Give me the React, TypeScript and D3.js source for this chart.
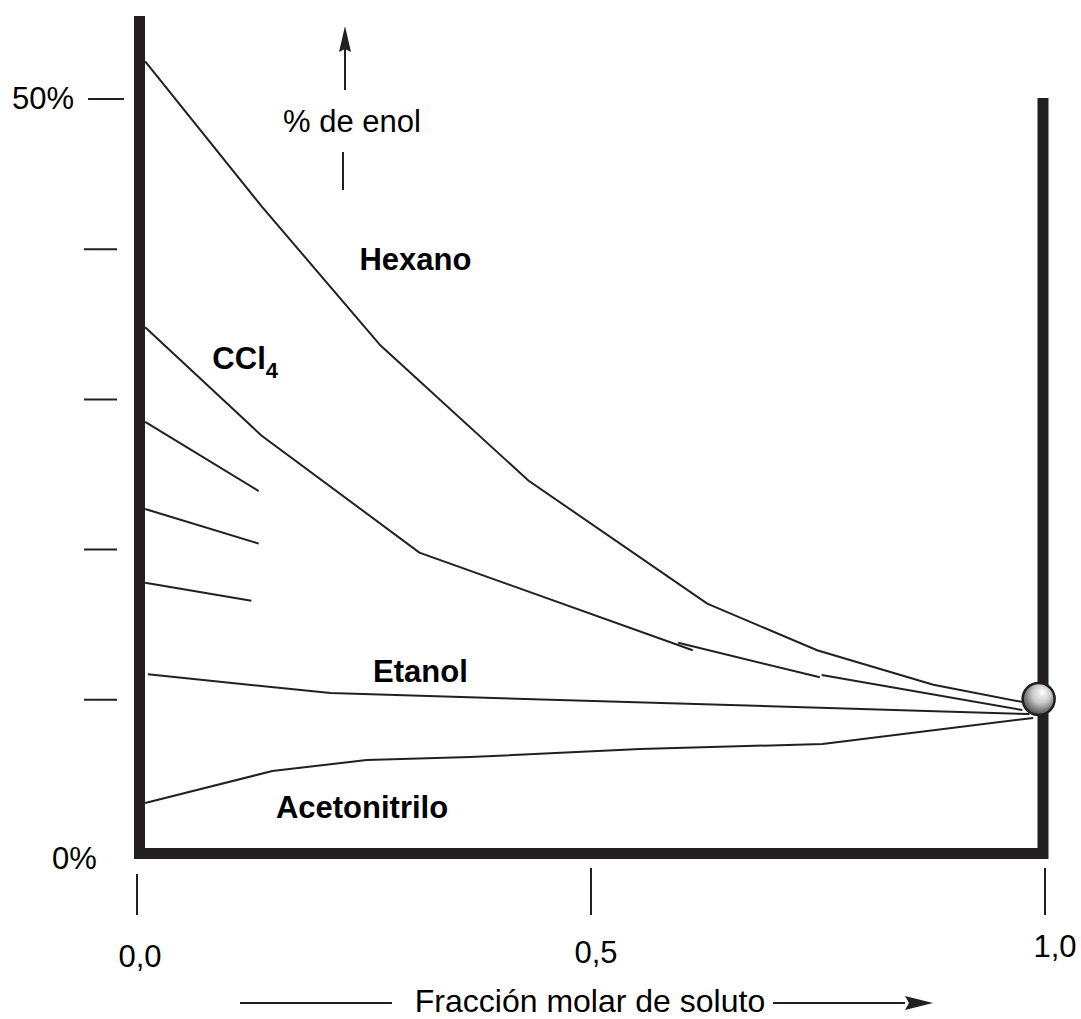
import React from "react";
import * as d3 from "d3";

// mole fraction of solute (x) vs % enol (y)
const hexanoX = [0.009, 0.138, 0.268, 0.431, 0.628, 0.749, 0.877, 0.975];
const hexanoY = [52.5, 42.8, 33.6, 24.6, 16.4, 13.3, 11.0, 9.85];

// CCl4 is drawn in three overlapping pieces in the original
const ccl4X = [0.009, 0.137, 0.311, 0.612];
const ccl4Y = [34.8, 27.6, 19.8, 13.3];
const ccl4MidX = [0.596, 0.752];
const ccl4MidY = [13.8, 11.5];
const ccl4EndX = [0.754, 0.975];
const ccl4EndY = [11.65, 9.32];

// three unlabeled short solvent lines
const shortStartX = [0.009, 0.009, 0.009];
const shortStartY = [28.5, 22.7, 17.8];
const shortEndX = [0.134, 0.134, 0.126];
const shortEndY = [23.9, 20.4, 16.6];

const etanolX = [0.012, 0.213, 0.983];
const etanolY = [11.7, 10.45, 9.05];

const acetoX = [0.009, 0.149, 0.253, 0.367, 0.554, 0.755, 0.987];
const acetoY = [3.13, 5.26, 5.99, 6.19, 6.72, 7.06, 8.79];

// pure liquid point
const pureX = 0.993;
const pureY = 10.05;

const yTicks = [0, 10, 20, 30, 40, 50];
const yTickLabels = ["0%", "", "", "", "", "50%"];
const xTicks = [0, 0.5, 1];
const xTickLabels = ["0,0", "0,5", "1,0"];

const seriesLabels = ["Hexano", "CCl", "Etanol", "Acetonitrilo"];
const seriesLabelX = [0.245, 0.083, 0.26, 0.153];
const seriesLabelY = [38.6, 32.0, 11.2, 2.13];

const INK = "#231f20";
const FONT = "'Liberation Sans', Arial, Helvetica, sans-serif";

export default function App() {
  const W = 1081, H = 1019;

  const x = d3.scaleLinear().domain([0, 1]).range([137, 1045]);
  const y = d3.scaleLinear().domain([0, 50]).range([850, 99]);

  const line = d3.line<[number, number]>()
    .x(d => x(d[0]))
    .y(d => y(d[1]));

  const zip = (xs: number[], ys: number[]) => xs.map((v, i) => [v, ys[i]] as [number, number]);

  const curves = [
    zip(hexanoX, hexanoY),
    zip(ccl4X, ccl4Y),
    zip(ccl4MidX, ccl4MidY),
    zip(ccl4EndX, ccl4EndY),
    zip(etanolX, etanolY),
    zip(acetoX, acetoY),
    ...shortStartY.map((v, i) => [[shortStartX[i], v], [shortEndX[i], shortEndY[i]]] as [number, number][]),
  ];

  // frame: left bar, bottom bar, right bar
  const frame = `M${x(0) + 2.5},16 L${x(0) + 2.5},${y(0) + 3.5} L${x(1) - 2},${y(0) + 3.5} L${x(1) - 2},98`;

  const tickX1 = (v: number) => (v === 50 ? 88 : 84);
  const tickX2 = (v: number) => (v === 50 ? 124 : 117);

  return (
    <svg width={W} height={H} style={{ position: "absolute", left: 0, top: 0, background: "#fff" }}
      fontFamily={FONT}>
      <defs>
        <radialGradient id="ball" cx="0.55" cy="0.4" r="0.65" fx="0.62" fy="0.28">
          <stop offset="0" stopColor="#ffffff" />
          <stop offset="0.45" stopColor="#c8c8c8" />
          <stop offset="1" stopColor="#3a3a3a" />
        </radialGradient>
      </defs>

      {/* y ticks */}
      {yTicks.filter(v => v > 0).map(v => (
        <line key={v} x1={tickX1(v)} x2={tickX2(v)} y1={y(v)} y2={y(v)} stroke={INK} strokeWidth={2} />
      ))}
      {yTicks.map((v, i) => yTickLabels[i] ? (
        <text key={"yl" + v} x={v === 0 ? 52 : 12} y={v === 0 ? 869 : y(v) + 10} fontSize={31} fill="#000">
          {yTickLabels[i]}
        </text>
      ) : null)}

      {/* x ticks */}
      {xTicks.map((v, i) => (
        <g key={"xt" + v}>
          <line x1={x(v)} x2={x(v)} y1={i === 0 ? 874 : 868} y2={915} stroke={INK} strokeWidth={2} />
          <text x={x(v) + [3, 5, 10][i]} y={[967, 963, 957][i]} fontSize={31}
            textAnchor="middle" fill="#000">{xTickLabels[i]}</text>
        </g>
      ))}

      {/* curves */}
      {curves.map((c, i) => (
        <path key={"c" + i} d={line(c) || ""} fill="none" stroke={INK} strokeWidth={2} />
      ))}

      {/* frame */}
      <path d={frame} fill="none" stroke={INK} strokeWidth={11} strokeLinejoin="miter" />

      {/* pure solute point */}
      <circle cx={x(pureX)} cy={y(pureY)} r={16} fill="url(#ball)" stroke={INK} strokeWidth={2.5} />

      {/* series labels */}
      {seriesLabels.map((s, i) => (
        <text key={s} x={x(seriesLabelX[i])} y={y(seriesLabelY[i])} fontSize={31} fontWeight="bold" fill="#000">
          {s}
          {s === "CCl" ? <tspan fontSize={22} dy={9}>4</tspan> : null}
        </text>
      ))}

      {/* y axis title with arrow */}
      <text x={283} y={132} fontSize={31} fill="#000">% de enol</text>
      <line x1={345} x2={345} y1={90} y2={45} stroke={INK} strokeWidth={2} />
      <path d="M345,26 L351,52 L345,49 L339,52 Z" fill={INK} />
      <line x1={343} x2={343} y1={152} y2={190} stroke={INK} strokeWidth={2} />

      {/* x axis title with arrow */}
      <line x1={240} x2={392} y1={1003} y2={1003} stroke={INK} strokeWidth={2} />
      <text x={590} y={1012} fontSize={32} textAnchor="middle" fill="#000">Fracción molar de soluto</text>
      <line x1={773} x2={905} y1={1003} y2={1003} stroke={INK} strokeWidth={2} />
      <path d="M933,1003 L905,996 L909,1003 L905,1010 Z" fill={INK} />
    </svg>
  );
}
